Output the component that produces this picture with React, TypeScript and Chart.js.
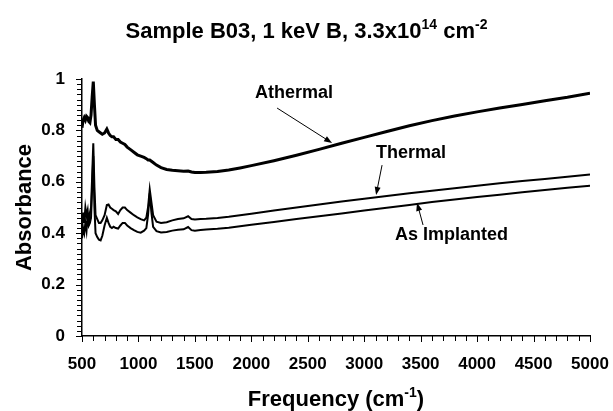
import { useEffect, useRef } from "react";
import { Chart, registerables } from "chart.js";

Chart.register(...registerables);

const FONT = '"Liberation Sans", Arial, Helvetica, sans-serif';

// Frequency (cm^-1) sample positions
const frequency = [
  500, 510, 520, 530, 540, 550, 560, 570, 580, 590, 600, 610, 620, 635, 650, 665, 680, 700, 720, 735,
  750, 765, 780, 800, 820, 840, 860, 880, 900, 930, 960, 990, 1020, 1050, 1070, 1085, 1100, 1115, 1130, 1160,
  1200, 1250, 1300, 1350, 1400, 1440, 1470, 1500, 1550, 1600, 1700, 1800, 1900, 2000, 2200, 2400, 2600, 2800, 3000, 3200,
  3400, 3600, 3800, 4000, 4200, 4400, 4600, 4800, 5000,
];

const athermal = [
  0.81, 0.84, 0.85, 0.84, 0.855, 0.85, 0.835, 0.83, 0.86, 0.93, 0.99, 0.9, 0.82, 0.8, 0.795, 0.79, 0.785, 0.79, 0.805, 0.79,
  0.78, 0.775, 0.775, 0.765, 0.765, 0.755, 0.75, 0.745, 0.735, 0.725, 0.715, 0.705, 0.7, 0.695, 0.69, 0.685, 0.685, 0.68, 0.675, 0.665,
  0.655, 0.648, 0.645, 0.643, 0.641, 0.642, 0.638, 0.636, 0.636, 0.637, 0.64, 0.646, 0.654, 0.663, 0.682, 0.703, 0.726, 0.75, 0.773, 0.796,
  0.818, 0.838, 0.856, 0.872, 0.887, 0.901, 0.915, 0.929, 0.945,
];

const thermal = [
  0.42, 0.48, 0.44, 0.5, 0.47, 0.49, 0.43, 0.48, 0.5, 0.62, 0.75, 0.58, 0.47, 0.455, 0.44, 0.44, 0.45, 0.47, 0.51, 0.512,
  0.5, 0.495, 0.49, 0.485, 0.475, 0.49, 0.5, 0.5, 0.49, 0.48, 0.47, 0.462, 0.455, 0.45, 0.46, 0.5, 0.57, 0.52, 0.47, 0.445,
  0.44, 0.443, 0.45, 0.455, 0.458, 0.466, 0.455, 0.453, 0.455, 0.456, 0.459, 0.464, 0.47, 0.476, 0.488, 0.5, 0.512, 0.523, 0.534, 0.545,
  0.555, 0.565, 0.575, 0.585, 0.594, 0.603, 0.611, 0.62, 0.628,
];

const asImplanted = [
  0.38, 0.42, 0.4, 0.44, 0.41, 0.47, 0.43, 0.44, 0.46, 0.58, 0.7, 0.5, 0.4, 0.385, 0.375, 0.372, 0.39, 0.43, 0.46, 0.44,
  0.425, 0.42, 0.425, 0.42, 0.418, 0.43, 0.44, 0.44, 0.43, 0.42, 0.412, 0.405, 0.402, 0.41, 0.42, 0.47, 0.555, 0.48, 0.425, 0.408,
  0.403, 0.405, 0.41, 0.413, 0.415, 0.424, 0.412, 0.41, 0.412, 0.414, 0.417, 0.421, 0.427, 0.433, 0.444, 0.455, 0.466, 0.477, 0.488, 0.499,
  0.51, 0.521, 0.531, 0.541, 0.55, 0.559, 0.568, 0.577, 0.585,
];

const xTicks = [500, 1000, 1500, 2000, 2500, 3000, 3500, 4000, 4500, 5000];
const xTickLabels = ["500", "1000", "1500", "2000", "2500", "3000", "3500", "4000", "4500", "5000"];
const yTicks = [0, 0.2, 0.4, 0.6, 0.8, 1];
const yTickLabels = ["0", "0.2", "0.4", "0.6", "0.8", "1"];

const seriesNames = ["Athermal", "Thermal", "As Implanted"];

// annotation positions in data coordinates
const annotations = [
  { text: "Athermal", at: [2378, 0.946], from: [2228, 0.887], to: [2715, 0.751] },
  { text: "Thermal", at: [3415, 0.711], from: [3158, 0.665], to: [3105, 0.549] },
  { text: "As Implanted", at: [3773, 0.393], from: [3521, 0.432], to: [3468, 0.518] },
];

function drawRich(ctx: CanvasRenderingContext2D, parts: [string, boolean][], cx: number, baseline: number, size: number) {
  const supSize = Math.round(size * 0.62);
  const mainFont = `bold ${size}px ${FONT}`;
  const supFont = `bold ${supSize}px ${FONT}`;
  const widths = parts.map(([t, sup]) => {
    ctx.font = sup ? supFont : mainFont;
    return ctx.measureText(t).width;
  });
  const total = widths.reduce((a, b) => a + b, 0);
  let x = cx - total / 2;
  ctx.textAlign = "left";
  ctx.textBaseline = "alphabetic";
  parts.forEach(([t, sup], i) => {
    ctx.font = sup ? supFont : mainFont;
    ctx.fillText(t, x, sup ? baseline - size * 0.4 : baseline);
    x += widths[i];
  });
}

const decorPlugin = {
  id: "decor",
  afterDraw(chart: any) {
    const ctx: CanvasRenderingContext2D = chart.ctx;
    const xs = chart.scales.x;
    const ys = chart.scales.y;
    const area = chart.chartArea;
    ctx.save();
    ctx.strokeStyle = "#000";
    ctx.fillStyle = "#000";
    ctx.lineWidth = 1;
    // x ticks (every 100)
    for (let i = 0; i <= 45; i++) {
      const v = 500 + i * 100;
      const px = Math.round(xs.getPixelForValue(v)) + 0.5;
      const len = i % 5 === 0 ? 6 : 5;
      ctx.beginPath();
      ctx.moveTo(px, area.bottom);
      ctx.lineTo(px, area.bottom + len);
      ctx.stroke();
    }
    // y ticks (every 0.02)
    for (let i = 0; i <= 50; i++) {
      const v = i * 0.02;
      const py = Math.round(ys.getPixelForValue(v)) + 0.5;
      const len = i % 10 === 0 ? 6 : 5;
      ctx.beginPath();
      ctx.moveTo(area.left, py);
      ctx.lineTo(area.left - len, py);
      ctx.stroke();
    }
    // title
    drawRich(ctx, [["Sample B03, 1 keV B, 3.3x10", false], ["14", true], [" cm", false], ["-2", true]], chart.width / 2, 38, 22);
    // x axis title
    drawRich(ctx, [["Frequency (cm", false], ["-1", true], [")", false]], (area.left + area.right) / 2, 406, 22);
    // y axis title
    ctx.save();
    ctx.translate(31, (area.top + area.bottom) / 2);
    ctx.rotate(-Math.PI / 2);
    ctx.font = `bold 22px ${FONT}`;
    ctx.textAlign = "center";
    ctx.textBaseline = "alphabetic";
    ctx.fillText("Absorbance", 0, 0);
    ctx.restore();
    // annotations
    annotations.forEach((a) => {
      ctx.font = `bold 18px ${FONT}`;
      ctx.textAlign = "center";
      ctx.textBaseline = "middle";
      ctx.fillText(a.text, xs.getPixelForValue(a.at[0]), ys.getPixelForValue(a.at[1]));
      const x1 = xs.getPixelForValue(a.from[0]);
      const y1 = ys.getPixelForValue(a.from[1]);
      const x2 = xs.getPixelForValue(a.to[0]);
      const y2 = ys.getPixelForValue(a.to[1]);
      const ang = Math.atan2(y2 - y1, x2 - x1);
      const hl = 8;
      const hw = 3;
      ctx.lineWidth = 1;
      ctx.beginPath();
      ctx.moveTo(x1, y1);
      ctx.lineTo(x2 - Math.cos(ang) * hl * 0.8, y2 - Math.sin(ang) * hl * 0.8);
      ctx.stroke();
      ctx.beginPath();
      ctx.moveTo(x2, y2);
      ctx.lineTo(x2 - Math.cos(ang) * hl - Math.sin(ang) * hw, y2 - Math.sin(ang) * hl + Math.cos(ang) * hw);
      ctx.lineTo(x2 - Math.cos(ang) * hl + Math.sin(ang) * hw, y2 - Math.sin(ang) * hl - Math.cos(ang) * hw);
      ctx.closePath();
      ctx.fill();
    });
    ctx.restore();
  },
};

export default function App() {
  const canvasRef = useRef<HTMLCanvasElement | null>(null);

  useEffect(() => {
    document.body.style.margin = "0";
    const canvas = canvasRef.current;
    if (!canvas) return;
    const mk = (vals: number[]) => frequency.map((f, i) => ({ x: f, y: vals[i] }));
    const chart = new Chart(canvas, {
      type: "line",
      data: {
        datasets: [
          { label: seriesNames[0], data: mk(athermal), borderColor: "#000", borderWidth: 3, pointRadius: 0, tension: 0, fill: false },
          { label: seriesNames[1], data: mk(thermal), borderColor: "#000", borderWidth: 2, pointRadius: 0, tension: 0, fill: false },
          { label: seriesNames[2], data: mk(asImplanted), borderColor: "#000", borderWidth: 2, pointRadius: 0, tension: 0, fill: false },
        ],
      },
      options: {
        responsive: false,
        animation: false,
        events: [],
        layout: { padding: { top: 79, right: 23, left: 0, bottom: 0 } },
        plugins: { legend: { display: false }, title: { display: false }, tooltip: { enabled: false } },
        scales: {
          x: {
            type: "linear",
            min: 500,
            max: 5000,
            afterFit: (s: any) => {
              s.height = 75;
              s.paddingLeft = 0;
              s.paddingRight = 0;
            },
            afterBuildTicks: (s: any) => {
              s.ticks = xTicks.map((v) => ({ value: v }));
            },
            ticks: {
              autoSkip: false,
              maxRotation: 0,
              padding: 18,
              color: "#000",
              font: { family: FONT, size: 17, weight: "bold" },
              callback: (_v: any, i: number) => xTickLabels[i],
            },
            grid: { display: false, drawTicks: false, tickLength: 0 },
            border: { display: true, color: "#000", width: 1.5 },
          },
          y: {
            type: "linear",
            min: 0,
            max: 1,
            afterFit: (s: any) => {
              s.width = 82;
              s.paddingTop = 0;
              s.paddingBottom = 0;
            },
            afterBuildTicks: (s: any) => {
              s.ticks = yTicks.map((v) => ({ value: v }));
            },
            ticks: {
              autoSkip: false,
              padding: 17,
              color: "#000",
              font: { family: FONT, size: 17, weight: "bold" },
              callback: (_v: any, i: number) => yTickLabels[i],
            },
            grid: { display: false, drawTicks: false, tickLength: 0 },
            border: { display: true, color: "#000", width: 1.5 },
          },
        },
      },
      plugins: [decorPlugin],
    });
    return () => chart.destroy();
  }, []);

  return (
    <div style={{ width: 613, height: 411 }}>
      <canvas ref={canvasRef} width={613} height={411} />
    </div>
  );
}
